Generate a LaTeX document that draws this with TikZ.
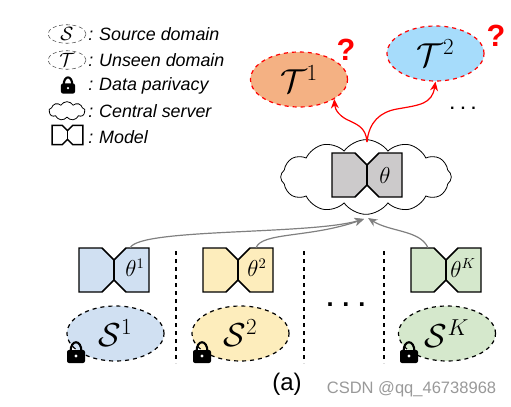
\documentclass[tikz,border=0pt]{standalone}
\usepackage{amsmath}
\usepackage{amssymb}
\usepackage{fontspec}
\newfontfamily\labelfont{Liberation Sans}
\usetikzlibrary{arrows.meta}
\usetikzlibrary{shapes.geometric}
\usetikzlibrary{shapes.symbols}

\definecolor{blueS}{HTML}{D0E0F2}
\definecolor{yellowS}{HTML}{FDEDBC}
\definecolor{greenS}{HTML}{D5E8CC}
\definecolor{orangeT}{HTML}{F4B183}
\definecolor{blueT}{HTML}{A6DCFB}
\definecolor{greyC}{HTML}{CCCACB}

\begin{document}
\begin{tikzpicture}[x=0.75pt,y=-0.75pt,
	source/.style={ellipse,draw,dashed,line width=0.9pt,inner sep=0pt,minimum width=72.75pt,minimum height=41.25pt,font=\fontsize{25}{27}\selectfont},
	unseen/.style={ellipse,draw=red,dashed,line width=0.9pt,inner sep=0pt,minimum width=72.75pt,minimum height=41.25pt,font=\fontsize{25}{27}\selectfont},
	legendring/.style={ellipse,draw=black!70,densely dashed,thin,inner sep=0pt,minimum width=28.5pt,minimum height=13.5pt,font=\fontsize{14}{15}\selectfont},
	legendtext/.style={anchor=west,inner sep=0pt,font=\labelfont\itshape\fontsize{13.4}{15}\selectfont},
	modelbox/.style={inner sep=0pt,minimum width=53pt,minimum height=33pt},
	thetalabel/.style={inner sep=0pt,font=\fontsize{16}{18}\selectfont},
	query/.style={inner sep=0pt,text=red,font=\labelfont\bfseries\fontsize{23}{25}\selectfont},
	upload/.style={draw=black!50,line width=0.9pt,-{Stealth[length=7pt,width=6pt]}},
	deploy/.style={draw=red,line width=0.9pt,-{Stealth[length=7pt,width=6pt]}},
	model/.pic={
		\draw [line width=1.1pt,pic actions] (-35,-22) -- (-12,-22) -- (0,-10) -- (12,-22) -- (35,-22) -- (35,22) -- (12,22) -- (0,10) -- (-12,22) -- (-35,22) -- cycle;
		\draw [line width=1.1pt,pic actions,fill=none] (0,-10) -- (0,10);
	},
	padlock/.pic={
		\draw [line width=1.6pt] (-5.5,0) .. controls (-5.5,-13) and (5.5,-13) .. (5.5,0);
		\fill [rounded corners=1.5pt] (-9,-2) rectangle (9,11);
		\fill [white] (0,4) circle (1.6);
	}]
	\useasboundingbox (0,0) rectangle (511,407);

	% legend
	\node [legendring] (LS) at (67,34) {$\mathcal{S}$};
	\node [legendring] (LT) at (67,60) {$\mathcal{T}$};
	\pic [scale=0.78] at (68,85) {padlock};
	\node [cloud,draw,semithick,cloud puffs=9,cloud puff arc=120,aspect=2,inner sep=0pt,minimum width=27pt,minimum height=14pt] (LC) at (67,111) {};
	\pic [scale=0.44,fill=white,line width=0.8pt] at (67.5,135) {model};
	\node [legendtext] (t1) at (88,34) {:\hspace{4.5pt}Source domain};
	\node [legendtext] (t2) at (88,60) {:\hspace{4.5pt}Unseen domain};
	\node [legendtext] (t3) at (88,86) {:\hspace{4.5pt}Data parivacy};
	\node [legendtext] (t4) at (88,111) {:\hspace{4.5pt}Central server};
	\node [legendtext] (t5) at (88,137) {:\hspace{4.5pt}Model};

	% unseen domains
	\node [unseen,fill=orangeT] (T1) at (299,79.5) {$\mathcal{T}^1$};
	\node [unseen,fill=blueT] (T2) at (435.5,53.5) {$\mathcal{T}^2$};
	\node [query] (q1) at (346,50) {?};
	\node [query] (q2) at (496,36) {?};
	\node [inner sep=0pt,font=\labelfont\bfseries\fontsize{12}{14}\selectfont] (dots1) at (463,108) {.\hspace{4.7pt}.\hspace{4.7pt}.};

	% server
	\node [cloud,draw,fill=white,semithick,cloud puffs=12,cloud puff arc=110,aspect=2.3,inner sep=0pt,minimum width=128pt,minimum height=56pt] (C) at (366,177) {};
	\pic [fill=greyC] at (367,175) {model};
	\node [modelbox] (M) at (367,175) {};
	\node [inner sep=0pt,font=\fontsize{16}{18}\selectfont] (th) at (385,175) {$\theta$};
	\coordinate (hub) at (367,142);
	\coordinate (bend1) at (350,121);
	\coordinate (bend2) at (397,109);
	\coordinate (sink) at (364,219);
	\coordinate (sinkK) at (368,218);

	% clients
	\pic [fill=blueS] at (114,270) {model};
	\node [modelbox] (M1) at (114,270) {};
	\node [thetalabel] (th1) at (135,268) {$\theta^1$};
	\pic [fill=yellowS] at (238,270) {model};
	\node [modelbox] (M2) at (238,270) {};
	\node [thetalabel] (th2) at (257,268) {$\theta^2$};
	\pic [fill=greenS] at (446,270) {model};
	\node [modelbox] (MK) at (446,270) {};
	\node [thetalabel] (thK) at (463,268) {$\theta^K$};

	\node [source,fill=blueS] (S1) at (115.5,333.5) {$\mathcal{S}^1$};
	\node [source,fill=yellowS] (S2) at (240.5,333.5) {$\mathcal{S}^2$};
	\node [source,fill=greenS] (SK) at (447,333.5) {$\mathcal{S}^K$};
	\pic at (76,352) {padlock};
	\pic at (202,352) {padlock};
	\pic at (409,352) {padlock};

	\node [inner sep=0pt,font=\labelfont\bfseries\fontsize{19}{21}\selectfont] (dots2) at (346,305) {.\hspace{6.7pt}.\hspace{6.7pt}.};

	% dividers
	\coordinate (a1) at (176,251);
	\coordinate (b1) at (176,363);
	\coordinate (a2) at (304,251);
	\coordinate (b2) at (304,363);
	\coordinate (a3) at (384,251);
	\coordinate (b3) at (384,363);
	\draw [dashed,thick] (a1) -- (b1);
	\draw [dashed,thick] (a2) -- (b2);
	\draw [dashed,thick] (a3) -- (b3);

	% connectors
	\draw [deploy] (hub) .. controls (366,128) and (358,125) .. (bend1) .. controls (340,117) and (335,110) .. (T1.-29);
	\draw [deploy] (hub) .. controls (369,122) and (380,112) .. (bend2) .. controls (420,105) and (432,104) .. (T2.-90);
	\draw [upload] (M1.54) .. controls (140,228) and (310,235) .. (sink);
	\draw [upload] (M2.51) .. controls (262,232) and (310,238) .. (sink);
	\draw [upload] (MK.129) .. controls (420,230) and (390,232) .. (sinkK);

	\node [inner sep=0pt,font=\labelfont\fontsize{18}{20}\selectfont] (cap) at (287,384) {(a)};
	\node [inner sep=0pt,text=black!40,font=\labelfont\fontsize{12.4}{14}\selectfont] (wm) at (411.5,389) {CSDN @qq\_46738968};
\end{tikzpicture}
\end{document}
